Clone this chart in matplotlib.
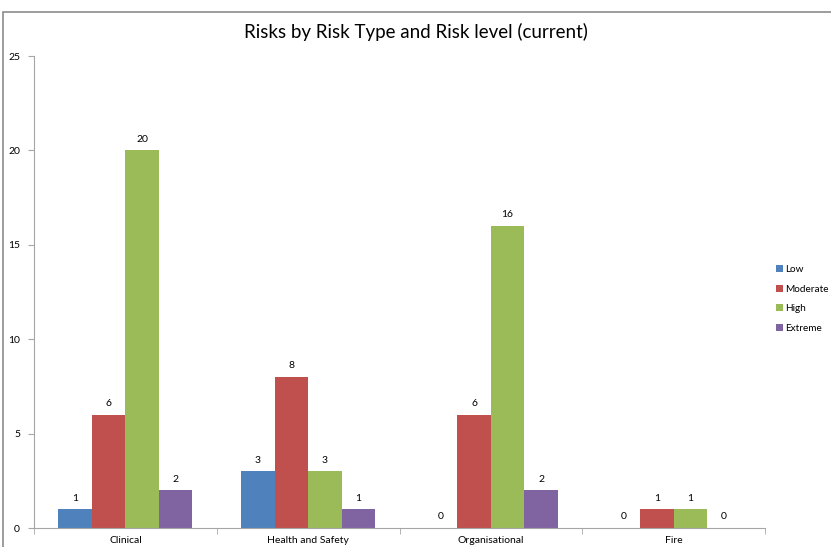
import numpy as np
import matplotlib
matplotlib.use("Agg")
import matplotlib.pyplot as plt
from matplotlib.patches import Rectangle

categories = ["Clinical", "Health and Safety", "Organisational", "Fire"]
levels = ["Low", "Moderate", "High", "Extreme"]
low = [1, 3, 0, 0]
moderate = [6, 8, 6, 1]
high = [20, 3, 16, 1]
extreme = [2, 1, 2, 0]
colors = ["#4F81BD", "#C0504D", "#9BBB59", "#8064A2"]

plt.rcParams['font.family'] = ['Lato', 'DejaVu Sans']

fig = plt.figure(figsize=(8.31, 5.47), dpi=100)
# outer chart border
fig.patches.append(Rectangle((3/831, -0.05), 1.0, 1 - 12/547 + 0.05,
                             transform=fig.transFigure, fill=False,
                             edgecolor="#8c8c8c", linewidth=1.2))
ax = fig.add_axes([34/831, 1 - 528/547, (765 - 34)/831, (528 - 56)/547])

x = np.arange(len(categories))
w = 0.183
series = [low, moderate, high, extreme]
for i, (vals, name, c) in enumerate(zip(series, levels, colors)):
    pos = x + (i - 1.5) * w
    ax.bar(pos, vals, width=w, color=c, label=name, zorder=2)
    for p, v in zip(pos, vals):
        ax.text(p, v + 0.35, str(v), ha="center", va="bottom", fontsize=7.5, color="#000000")

ax.set_xlim(-0.5, len(categories) - 0.5)
ax.set_ylim(0, 25)
ax.set_yticks([0, 5, 10, 15, 20, 25])
ax.set_xticks(x)
ax.set_xticklabels(categories, fontsize=7.5)
ax.set_xticks(np.arange(-0.5, len(categories)), minor=True)
ax.tick_params(axis="x", which="major", length=0, pad=6)
ax.tick_params(axis="x", which="minor", length=4, color="#a6a6a6")
ax.tick_params(axis="y", labelsize=7.5, length=4, color="#a6a6a6", pad=6)
for s in ["top", "right"]:
    ax.spines[s].set_visible(False)
for s in ["left", "bottom"]:
    ax.spines[s].set_color("#a6a6a6")

fig.text(0.5, 1 - 32/547, "Risks by Risk Type and Risk level (current)",
         ha="center", va="center", fontsize=13.5)

ax.legend(loc="upper left", bbox_to_anchor=(776/831, 1 - 265/547),
          bbox_transform=fig.transFigure, frameon=False, fontsize=7.2,
          handlelength=0.7, handleheight=0.7, handletextpad=0.25,
          labelspacing=1.05, borderaxespad=0, borderpad=0)

fig.savefig("out.png", dpi=100)
